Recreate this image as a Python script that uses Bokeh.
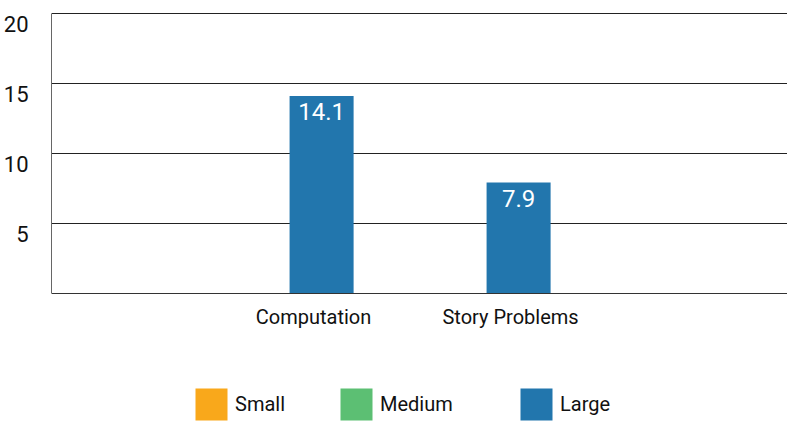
from bokeh.plotting import figure
from bokeh.models import (ColumnDataSource, FixedTicker, Range1d, Legend, LegendItem,
                          LabelSet)
from bokeh.core.properties import value
from bokeh.embed import file_html
from bokeh.resources import INLINE

# ---- data ----
categories = ["Computation", "Story Problems"]
series_names = ["Small", "Medium", "Large"]
small_vals = [0, 0]
medium_vals = [0, 0]
large_vals = [14.1, 7.9]
y_ticks = [5, 10, 15, 20]
colors = ["#F9A81B", "#5CBF73", "#2276AD"]

NUM = "Roboto"
BODY = "Roboto"

x_pos = [i + 1 for i in range(len(categories))]
bar_shift = 0.041
bar_w = 0.325
label_drop = 0.787  # tick labels sit just below their gridline

src = ColumnDataSource(dict(
    x=[v + bar_shift for v in x_pos],
    small=small_vals, medium=medium_vals, large=large_vals,
    lab=[f"{v:.1f}" for v in large_vals],
))

p = figure(width=787, height=423, output_backend="svg", toolbar_location=None,
           x_range=Range1d(-0.330, 3.406), y_range=Range1d(-9.338, 20.0716),
           min_border_left=51, min_border_right=0, min_border_top=12,
           min_border_bottom=0, outline_line_color=None)
p.background_fill_color = "white"
p.border_fill_color = "white"

renderers = []
for name, col, c in zip(series_names, ["small", "medium", "large"], colors):
    r = p.vbar(x="x", top=col, bottom=0, width=bar_w, source=src,
               fill_color=c, line_color=None)
    renderers.append(r)

labels = LabelSet(x="x", y="large", text="lab", source=src, y_offset=-7,
                  text_align="center", text_baseline="top", text_color="white",
                  text_font=value(NUM), text_font_size="24px")
p.add_layout(labels)

# x axis sits on the zero line
p.xaxis.fixed_location = 0
p.xaxis.ticker = FixedTicker(ticks=x_pos)
p.xaxis.major_label_overrides = {x: c for x, c in zip(x_pos, categories)}
p.xaxis.major_label_text_font = BODY
p.xaxis.major_label_text_font_size = "20px"
p.xaxis.major_label_text_color = "#111111"
p.xaxis.major_label_standoff = 6
p.xaxis.major_tick_line_color = None
p.xaxis.minor_tick_line_color = None
p.xaxis.axis_line_color = "#333333"

y_label_pos = [t - label_drop for t in y_ticks]
p.yaxis.ticker = FixedTicker(ticks=y_label_pos)
p.yaxis.major_label_overrides = {pos: str(t) for pos, t in zip(y_label_pos, y_ticks)}
p.yaxis.bounds = (0, y_ticks[-1])
p.yaxis.major_label_text_font = NUM
p.yaxis.major_label_text_font_size = "22px"
p.yaxis.major_label_text_color = "#111111"
p.yaxis.major_label_standoff = 17
p.yaxis.major_tick_line_color = None
p.yaxis.minor_tick_line_color = None
p.yaxis.axis_line_color = "#666666"

p.xgrid.visible = False
p.ygrid.ticker = FixedTicker(ticks=y_ticks)
p.ygrid.grid_line_color = "#222222"
p.ygrid.grid_line_width = 1

# legends (legend swatch is drawn at 80% of the glyph box)
legend_x = [140, 285, 465]
for name, r, lx in zip(series_names, renderers, legend_x):
    lg = Legend(items=[LegendItem(label=name, renderers=[r])],
                location=(lx, -1), orientation="horizontal",
                glyph_width=40, glyph_height=40, label_standoff=4,
                padding=0, margin=0, border_line_color=None,
                background_fill_alpha=0,
                label_text_font=BODY, label_text_font_size="20px",
                label_text_line_height=1.6,
                label_text_color="#111111")
    p.add_layout(lg, "center")

open("out.html", "w").write(file_html(p, INLINE))
